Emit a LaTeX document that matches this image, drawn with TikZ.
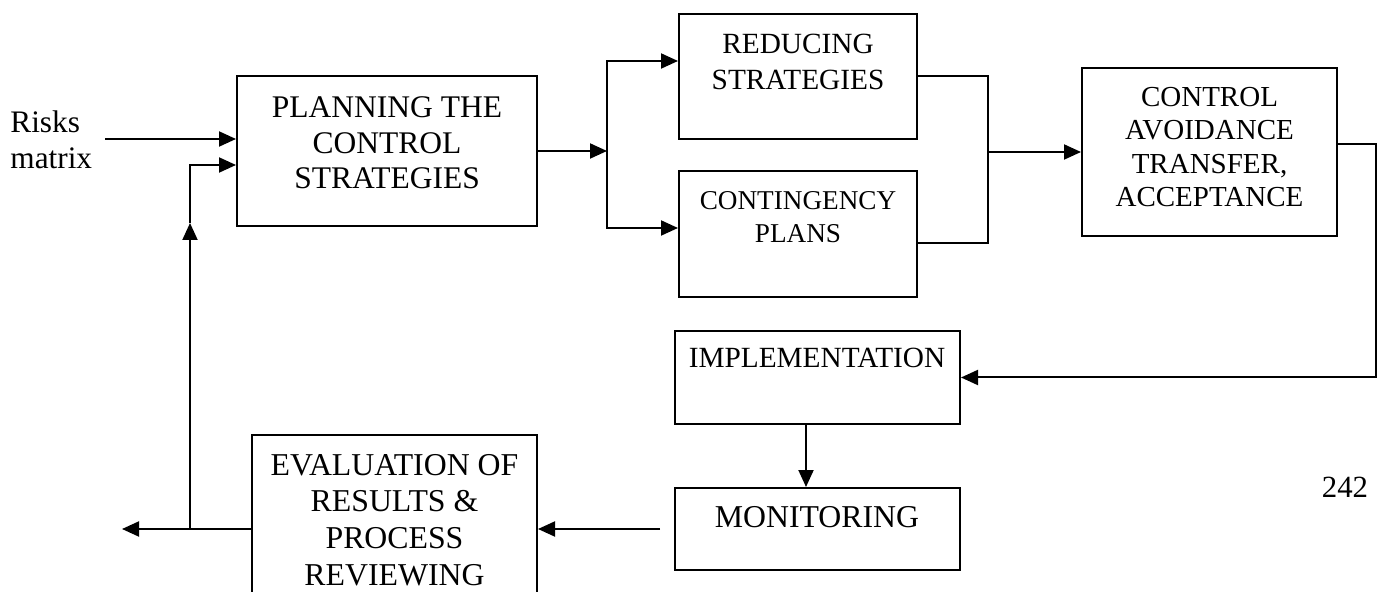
\documentclass[tikz,border=0pt]{standalone}
\usepackage{fontspec}
\setmainfont{Liberation Serif}
\usetikzlibrary{arrows.meta,calc}
\tikzset{
  box/.style={draw, line width=1pt, inner sep=0pt, fill=none},
  lbl/.style={align=center, inner sep=0pt},
  conn/.style={line width=1pt},
  arr/.style={conn, -{Triangle[length=8.5pt,width=7.5pt]}},
}
\begin{document}
\begin{tikzpicture}[x=0.5pt, y=-0.5pt]
  \useasboundingbox (0,0) rectangle (1379,592);
  \clip (0,0) rectangle (1379,592);
  \fill[white] (0,0) rectangle (1379,592);

  % boxes
  \node[box, minimum width=150pt, minimum height=75pt]  (plan) at (387,151) {};
  \node[box, minimum width=119pt, minimum height=62.5pt] (red) at (798,76.5) {};
  \node[box, minimum width=119pt, minimum height=63pt]  (cont) at (798,234) {};
  \node[box, minimum width=127.5pt, minimum height=84pt] (ctrl) at (1209.5,152) {};
  \node[box, minimum width=142.5pt, minimum height=46.5pt] (impl) at (817.5,377.5) {};
  \node[box, minimum width=142.5pt, minimum height=41pt] (mon) at (817.5,529) {};
  \node[box, minimum width=142.5pt, minimum height=94pt] (eval) at (394.5,529) {};

  % box texts
  \node[lbl, font=\fontsize{15.75pt}{17.75pt}\selectfont] (plan-t) at (387,143)
    {PLANNING THE\\CONTROL\\STRATEGIES};
  \node[lbl, font=\fontsize{14.65pt}{18pt}\selectfont] (red-t) at (798,62)
    {REDUCING\\STRATEGIES};
  \node[lbl, font=\fontsize{13.6pt}{16.5pt}\selectfont] (cont-t) at (798,217)
    {CONTINGENCY\\PLANS};
  \node[lbl, font=\fontsize{14.5pt}{16.7pt}\selectfont] (ctrl-t) at (1209.5,147)
    {CONTROL\\AVOIDANCE\\TRANSFER,\\ACCEPTANCE};
  \node[lbl, font=\fontsize{14.65pt}{17pt}\selectfont] (impl-t) at (817,358)
    {IMPLEMENTATION};
  \node[lbl, font=\fontsize{15.9pt}{18pt}\selectfont] (mon-t) at (817,517)
    {MONITORING};
  \node[lbl, font=\fontsize{15.9pt}{18.35pt}\selectfont] (eval-t) at (394.5,520)
    {EVALUATION OF\\RESULTS \&\\PROCESS\\REVIEWING};
  \node[lbl, align=left, anchor=west, font=\fontsize{15.65pt}{18pt}\selectfont] (risks) at (10,140)
    {Risks\\matrix};
  \node[lbl, font=\fontsize{15.4pt}{18pt}\selectfont] (page) at (1345,487) {242};

  % junction points
  \coordinate (rin) at (105,139);
  \coordinate (sp)  at (607,151);
  \coordinate (mg)  at (988,152);
  \coordinate (m0)  at (660,529);
  \coordinate (jn)  at (190,529);
  \coordinate (fbm) at (190,223);
  \coordinate (out) at (122,529);

  % input
  \draw[arr] (rin) -- (rin -| plan.west);

  % split into the two strategy branches
  \draw[arr] (plan.east) -- (sp);
  \draw[arr] (sp) |- ($(red.west)+(0,-15.5)$);
  \draw[arr] (sp) |- ($(cont.west)+(0,-6)$);

  % merge of the branches
  \draw[conn] (red.east) -| (mg);
  \draw[conn] ($(cont.east)+(0,9)$) -| (mg);
  \draw[arr] (mg) -- (ctrl.west);

  % to implementation and monitoring
  \draw[arr] ($(ctrl.east)+(0,-8)$) -- ++(38,0) |- (impl.east);
  \draw[arr] ($(impl.south)+(-11.5,0)$) -- ($(mon.north)+(-11.5,0)$);
  \draw[arr] (m0) -- (eval.east);

  % output and feedback loop
  \draw[arr] (eval.west) -- (out);
  \draw[arr] (jn) -- (fbm);
  \draw[arr] (fbm) |- ($(plan.west)+(0,14)$);
\end{tikzpicture}
\end{document}
